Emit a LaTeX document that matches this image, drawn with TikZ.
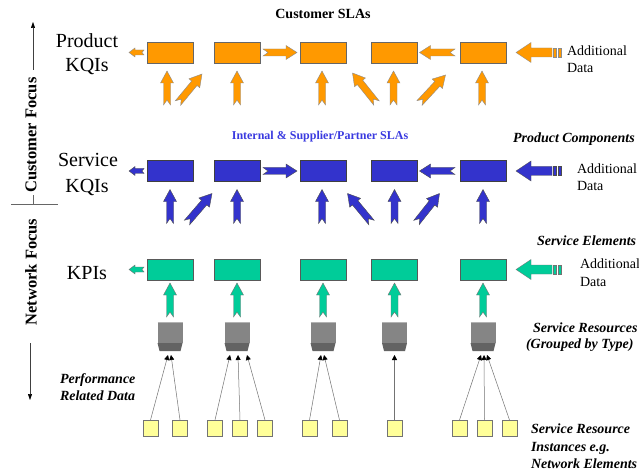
\documentclass[tikz,border=0pt]{standalone}
\usepackage{fontspec}
\setmainfont{Liberation Serif}
\usetikzlibrary{calc,arrows.meta}
\definecolor{org}{HTML}{FF9900}
\definecolor{blu}{HTML}{3333CC}
\definecolor{grn}{HTML}{00CC99}
\definecolor{ylw}{HTML}{FFFF99}
\definecolor{gtop}{HTML}{858585}
\definecolor{gbot}{HTML}{636363}
\definecolor{slablue}{HTML}{3A3AE0}
% block arrow: style, from, to, shaft half width, head half width, head length, tail notch
\newcommand{\blockarr}[7]{%
  \path[#1] let \p1=#2, \p2=#3, \n1={atan2(\y2-\y1,\x2-\x1)}, \n2={veclen(\x2-\x1,\y2-\y1)} in
    [shift={(\p1)}, rotate=\n1] (0,-#4) -- ({\n2-#6},-#4) -- ({\n2-#6},-#5) -- (\n2,0)
    -- ({\n2-#6},#5) -- ({\n2-#6},#4) -- (0,#4) -- (#7,0) -- cycle;}
\newcommand{\uparr}[3]{\blockarr{#1}{($(#2.south)+(#3,42)$)}{($(#2.south)+(#3,8)$)}{3.5}{6.5}{12}{5}}
\newcommand{\diagarr}[5]{\blockarr{#1}{($(#2.south)+(#3)$)}{($(#2.south)+(#4)$)}{3.5}{7}{12}{5}}
\begin{document}
\begin{tikzpicture}[x=1pt,y=-1pt,
  every node/.style={inner sep=0pt, outer sep=0pt},
  pbox/.style={rectangle, draw=black!60, line width=0.5pt, fill=org, minimum width=46pt, minimum height=21pt},
  sbox/.style={pbox, draw=black!75, fill=blu},
  kbox/.style={pbox, draw=black!65, fill=grn},
  oarr/.style={fill=org, draw=black!45, line width=0.4pt},
  barr/.style={fill=blu, draw=black!70, line width=0.4pt},
  garr/.style={fill=grn, draw=black!55, line width=0.4pt},
  gres/.style={rectangle, minimum width=25pt, minimum height=29pt},
  ybox/.style={rectangle, draw=black!55, fill=ylw, line width=0.5pt, minimum width=15pt, minimum height=16pt},
  feed/.style={draw=black!55, line width=0.5pt, -{Triangle[length=5pt,width=5pt,color=black]}},
  axisln/.style={draw=black!75, line width=0.5pt, -{Triangle[length=6pt,width=4pt,color=black]}},
  bigl/.style={font=\fontsize{20}{24}\selectfont},
  reg/.style={font=\fontsize{14}{17}\selectfont},
  hdr/.style={font=\fontsize{14}{17}\selectfont\bfseries},
  hdrb/.style={font=\fontsize{12}{14}\selectfont\bfseries, text=slablue},
  bi/.style={font=\fontsize{14}{17}\selectfont\bfseries\itshape},
  rot/.style={font=\fontsize{16.5}{19}\selectfont\bfseries, rotate=90}]
\useasboundingbox (0,0) rectangle (639,473);
\fill[white] (0,0) rectangle (639,473);

% ---- boxes ----
\foreach \i/\xx in {1/170,2/237,3/323,4/394.5,5/483}{
  \node[pbox] (p\i) at (\xx,52.5) {};
  \node[sbox] (s\i) at (\xx,171) {};
  \node[kbox] (k\i) at (\xx,269.5) {};
  \node[gres] (g\i) at (\xx,336.5) {};
}
% gray resource boxes
\foreach \i in {1,...,5}{
  \fill[gtop] (g\i.north west) rectangle ($(g\i.south east)+(0,-8)$);
  \fill[gbot] ($(g\i.south west)+(0,-8)$) -- ($(g\i.south east)+(0,-8)$) -- ($(g\i.south east)+(-2,0)$) -- ($(g\i.south west)+(2,0)$) -- cycle;
  \draw[black!30, line width=0.4pt] (g\i.north west) -- (g\i.north east);
}
% yellow instances
\foreach \i/\xx in {1/150.5,2/180,3/215,4/240,5/265,6/309.5,7/339.5,8/394.5,9/459.5,10/484.5,11/509.5}{
  \node[ybox] (y\i) at (\xx,428) {};
}
\foreach \ya/\gb/\dd in {1/1/-2, 2/1/1, 3/2/-7, 4/2/1, 5/2/10, 6/3/-2, 7/3/1, 8/4/0, 9/5/-2, 10/5/1, 11/5/4}{
  \draw[feed] (y\ya.north) -- ($(g\gb.south)+(\dd,4)$);
}

% ---- product row arrows ----
\blockarr{oarr}{($(p1.west)+(-3,0)$)}{($(p1.west)+(-18,0)$)}{2.5}{4.5}{6}{2}
\blockarr{oarr}{($(p2.east)+(3,0)$)}{($(p3.west)+(-3,0)$)}{3.5}{7}{11}{5}
\blockarr{oarr}{($(p5.west)+(-5,0)$)}{($(p4.east)+(2,0)$)}{3.5}{7}{11}{5}
\blockarr{oarr}{($(p5.east)+(46,0)$)}{($(p5.east)+(10,0)$)}{4.5}{10}{15}{0}
\draw[oarr] ($(p5.east)+(47,-4.5)$) rectangle ($(p5.east)+(50,4.5)$);
\draw[oarr] ($(p5.east)+(52,-4.5)$) rectangle ($(p5.east)+(55,4.5)$);
\uparr{oarr}{p1}{-3}
\diagarr{oarr}{p1}{8,40}{32,11}{}
\uparr{oarr}{p2}{0}
\uparr{oarr}{p3}{-1}
\diagarr{oarr}{p4}{-18,40}{-42,10}{}
\uparr{oarr}{p4}{-1}
\diagarr{oarr}{p4}{25,40}{51,12}{}
\uparr{oarr}{p5}{-1}

% ---- service row arrows ----
\blockarr{barr}{($(s1.west)+(-3,0)$)}{($(s1.west)+(-18,0)$)}{2.5}{4.5}{6}{2}
\blockarr{barr}{($(s2.east)+(3,0)$)}{($(s3.west)+(-3,0)$)}{3.5}{7}{11}{5}
\blockarr{barr}{($(s5.west)+(-5,0)$)}{($(s4.east)+(2,0)$)}{3.5}{7}{11}{5}
\blockarr{barr}{($(s5.east)+(46,0)$)}{($(s5.east)+(10,0)$)}{4.5}{10}{15}{0}
\draw[barr] ($(s5.east)+(47,-4.5)$) rectangle ($(s5.east)+(50,4.5)$);
\draw[barr] ($(s5.east)+(52,-4.5)$) rectangle ($(s5.east)+(55,4.5)$);
\uparr{barr}{s1}{0}
\diagarr{barr}{s1}{17,41}{42,12}{}
\uparr{barr}{s2}{0}
\uparr{barr}{s3}{-1}
\diagarr{barr}{s4}{-23,41}{-47,12}{}
\uparr{barr}{s4}{0}
\diagarr{barr}{s4}{22,41}{45,12}{}
\uparr{barr}{s5}{0}

% ---- KPI row arrows ----
\blockarr{garr}{($(k1.west)+(-3,0)$)}{($(k1.west)+(-18,0)$)}{2.5}{4.5}{6}{2}
\blockarr{garr}{($(k5.east)+(46,0)$)}{($(k5.east)+(10,0)$)}{4.5}{10}{15}{0}
\draw[garr] ($(k5.east)+(47,-4.5)$) rectangle ($(k5.east)+(50,4.5)$);
\draw[garr] ($(k5.east)+(52,-4.5)$) rectangle ($(k5.east)+(55,4.5)$);
\blockarr{garr}{($(g1.north)+(0,-5)$)}{($(k1.south)+(0,3)$)}{3.5}{6.5}{12}{5}
\blockarr{garr}{($(g2.north)+(0,-5)$)}{($(k2.south)+(0,3)$)}{3.5}{6.5}{12}{5}
\blockarr{garr}{($(g3.north)+(0,-5)$)}{($(k3.south)+(0,3)$)}{3.5}{6.5}{12}{5}
\blockarr{garr}{($(g4.north)+(0,-5)$)}{($(k4.south)+(0,3)$)}{3.5}{6.5}{12}{5}
\blockarr{garr}{($(g5.north)+(0,-5)$)}{($(k5.south)+(0,3)$)}{3.5}{6.5}{12}{5}

% ---- left axis ----
\coordinate (cfb) at (33,70);
\coordinate (cft) at (33,22);
\draw[axisln] (cfb) -- (cft);
\node[rot] (tCF) at (31,135) {Customer Focus};
\coordinate (sepl) at (11,204);
\coordinate (sepr) at (58,204);
\coordinate (sept) at (33,195);
\coordinate (sepm) at (33,204);
\draw[black!60, line width=0.5pt] (sepl) -- (sepr);
\draw[black!60, line width=0.5pt] (sept) -- (sepm);
\node[rot] (tNF) at (31,272) {Network Focus};
\coordinate (nft) at (30,343);
\coordinate (nfb) at (30,400);
\draw[axisln] (nft) -- (nfb);

% ---- texts ----
\node[bigl, anchor=base] (tProd) at (87,48) {Product};
\node[bigl, anchor=base] (tKQ1) at (87,72) {KQIs};
\node[bigl, anchor=base] (tServ) at (88,167) {Service};
\node[bigl, anchor=base] (tKQ2) at (87,192) {KQIs};
\node[bigl, anchor=base] (tKPI) at (87,279) {KPIs};
\node[hdr, anchor=base] (tCust) at (323,19) {Customer SLAs};
\node[hdrb, anchor=base] (tInt) at (320,140) {Internal \& Supplier/Partner SLAs};
\node[bi, anchor=base west] (tPC) at (513,143) {Product Components};
\node[bi, anchor=base west] (tSE) at (537,245) {Service Elements};
\node[bi, anchor=base west] (tSR1) at (533,332) {Service Resources};
\node[bi, anchor=base west] (tSR2) at (526,348) {(Grouped by Type)};
\node[bi, anchor=base west] (tI1) at (531,433) {Service Resource};
\node[bi, anchor=base west] (tI2) at (531,451) {Instances e.g.};
\node[bi, anchor=base west] (tI3) at (531,468) {Network Elements};
\node[bi, anchor=base west] (tPR1) at (60,383) {Performance};
\node[bi, anchor=base west] (tPR2) at (60,400) {Related Data};
\node[reg, anchor=base west] (ad1) at (567,56) {Additional};
\node[reg, anchor=base west] (ad1b) at (567,73) {Data};
\node[reg, anchor=base west] (ad2) at (577,174) {Additional};
\node[reg, anchor=base west] (ad2b) at (577,190) {Data};
\node[reg, anchor=base west] (ad3) at (580,268) {Additional};
\node[reg, anchor=base west] (ad3b) at (580,286) {Data};
\end{tikzpicture}
\end{document}
